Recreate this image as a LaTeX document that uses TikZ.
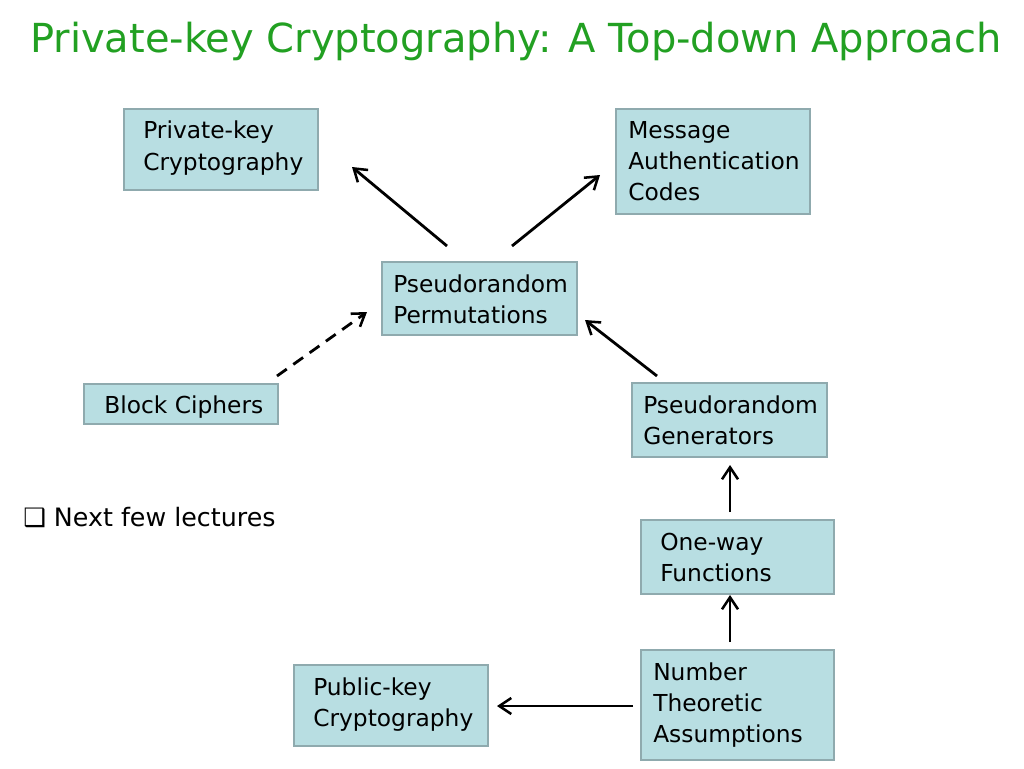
\documentclass[tikz,border=0pt]{standalone}
\usepackage{fontspec}
\setmainfont{DejaVu Sans}
\usetikzlibrary{arrows.meta}
\definecolor{boxfill}{HTML}{B8DEE2}
\definecolor{boxline}{HTML}{8FAAAE}
\definecolor{titlegreen}{HTML}{22A022}
\begin{document}
\begin{tikzpicture}[x=0.75pt,y=-0.75pt,
  cbox/.style={draw=boxline,line width=1.9pt,fill=boxfill,inner sep=0pt},
  lbl/.style={anchor=north west,align=left,font=\fontsize{17.5}{23.3}\selectfont,inner sep=0pt},
  arr/.style={-{Straight Barb[length=9pt,width=12pt,line width=1.9pt]},line width=2.1pt,black}]
\useasboundingbox (0,0) rectangle (1024,768);
\node[anchor=base west,inner sep=0pt,text=titlegreen,font=\fontsize{30}{34}\selectfont] (title) at (30,52) {Private-key Cryptography: A Top-down Approach};
% boxes
\draw[cbox] (124,109) rectangle (318,190);
\node[lbl] (pkc) at (143,121) {Private-key\\Cryptography};
\draw[cbox] (616,109) rectangle (810,214);
\node[lbl] (mac) at (628,121) {Message\\Authentication\\Codes};
\draw[cbox] (382,262) rectangle (577,335);
\node[lbl] (prp) at (393,274) {Pseudorandom\\Permutations};
\draw[cbox] (84,384) rectangle (278,424);
\node[lbl] (bc) at (104,395) {Block Ciphers};
\draw[cbox] (632,383) rectangle (827,457);
\node[lbl] (prg) at (643,395) {Pseudorandom\\Generators};
\draw[cbox] (641,520) rectangle (834,594);
\node[lbl] (owf) at (660,533) {One-way\\Functions};
\draw[cbox] (641,650) rectangle (834,760);
\node[lbl] (nta) at (653,662) {Number\\Theoretic\\Assumptions};
\draw[cbox] (294,665) rectangle (488,746);
\node[lbl] (pub) at (313,677) {Public-key\\Cryptography};
\node[lbl,font=\fontsize{19}{23}\selectfont] (next) at (23,507) {❑ Next few lectures};
% arrow ends
\coordinate (a1s) at (447,246); \coordinate (a1e) at (352,167);
\coordinate (a2s) at (512,246); \coordinate (a2e) at (600,175);
\coordinate (a3s) at (277,376); \coordinate (a3e) at (367,312);
\coordinate (a4s) at (657,376); \coordinate (a4e) at (585,320);
\coordinate (a5s) at (730,512); \coordinate (a5e) at (730,465);
\coordinate (a6s) at (730,642); \coordinate (a6e) at (730,595);
\coordinate (a7s) at (633,706); \coordinate (a7e) at (497,706);
\draw[arr] (a1s) -- (a1e);
\draw[arr] (a2s) -- (a2e);
\draw[arr,dash pattern=on 9pt off 6pt] (a3s) -- (a3e);
\draw[arr] (a4s) -- (a4e);
\draw[arr] (a5s) -- (a5e);
\draw[arr] (a6s) -- (a6e);
\draw[arr] (a7s) -- (a7e);
\end{tikzpicture}
\end{document}
